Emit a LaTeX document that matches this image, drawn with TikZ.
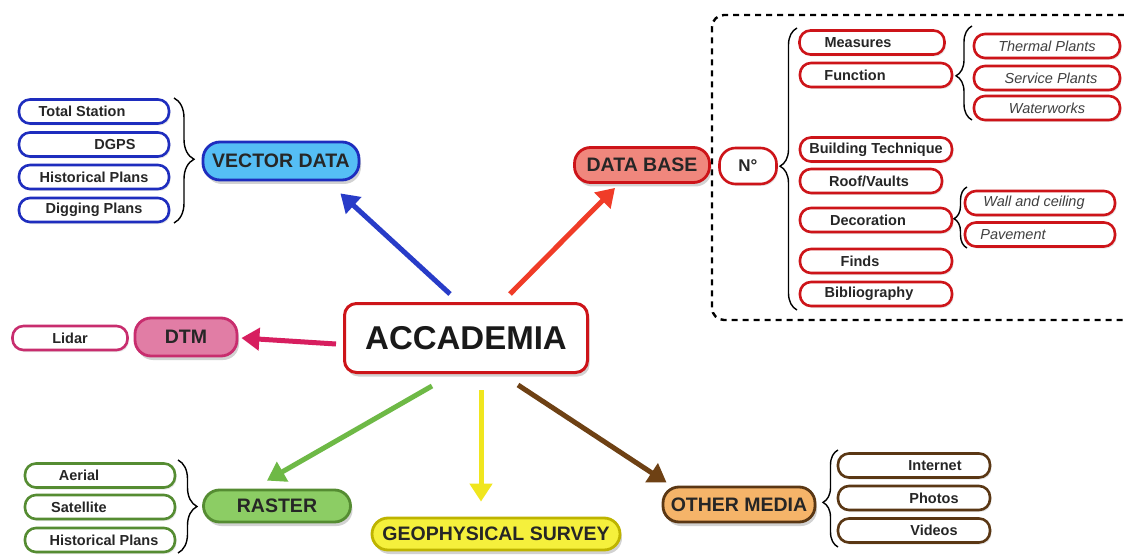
\documentclass[tikz,border=0pt]{standalone}
\usepackage{fontspec}
\setmainfont{Liberation Sans}
\usetikzlibrary{shadows,decorations.pathreplacing,arrows.meta,calc}
\definecolor{bdblue}{RGB}{30,45,190}
\definecolor{fillblue}{RGB}{85,190,245}
\definecolor{bdred}{RGB}{205,20,25}
\definecolor{fillsalmon}{RGB}{240,135,125}
\definecolor{bdpink}{RGB}{200,45,110}
\definecolor{fillpink}{RGB}{225,125,165}
\definecolor{bdgreen}{RGB}{85,140,50}
\definecolor{fillgreen}{RGB}{140,205,100}
\definecolor{bdyellow}{RGB}{190,180,0}
\definecolor{fillyellow}{RGB}{245,240,60}
\definecolor{bdbrown}{RGB}{90,55,20}
\definecolor{fillorange}{RGB}{245,180,105}
\definecolor{arblue}{RGB}{40,60,200}
\definecolor{arred}{RGB}{240,60,40}
\definecolor{arpink}{RGB}{215,30,95}
\definecolor{argreen}{RGB}{110,185,70}
\definecolor{aryellow}{RGB}{240,230,30}
\definecolor{arbrown}{RGB}{110,65,20}
\newcommand\offtext[2]{\makebox[0pt]{\hspace*{#1}\hspace*{#1}#2}}
\tikzset{
  item/.style={draw, line width=2.6pt, rounded corners=11pt, minimum height=24pt,
    inner sep=0pt, fill=white, font=\fontsize{14.5}{16}\selectfont\bfseries, text=black!85,
    drop shadow={opacity=0.18, shadow xshift=1.5pt, shadow yshift=-2pt}},
  itemit/.style={item, font=\fontsize{14.5}{16}\selectfont\itshape, text=black!75},
  mainnode/.style={draw, line width=2.8pt, rounded corners=16pt, inner sep=0pt,
    font=\fontsize{19.5}{22}\selectfont\bfseries, text=black!85,
    drop shadow={opacity=0.35, shadow xshift=2pt, shadow yshift=-4pt}},
  arr/.style={line width=5pt, -{Triangle[length=18pt,width=22pt]}},
  bracestyle/.style={draw=black, line width=1.4pt, decorate},
}
\begin{document}
\begin{tikzpicture}[x=1pt,y=-1pt]
\fill[white] (0,0) rectangle (1124,556);
\useasboundingbox (0,0) rectangle (1124,556);

% dashed frame
\draw[line width=2.4pt, dash pattern=on 6pt off 5pt, rounded corners=12pt]
  (1124,15) -- (712,15) -- (712,320) -- (1124,320);

% ---- blue group
\node[item, draw=bdblue, minimum width=150pt] (ts) at (94,111.5) {\offtext{-12pt}{Total Station}};
\node[item, draw=bdblue, minimum width=150pt] (dgps) at (94,144.5) {\offtext{21pt}{DGPS}};
\node[item, draw=bdblue, minimum width=150pt] (hpb) at (94,177) {Historical Plans};
\node[item, draw=bdblue, minimum width=150pt] (dig) at (94,210) {Digging Plans};
\node[mainnode, draw=bdblue, fill=fillblue, minimum width=156pt, minimum height=38pt, rounded corners=17pt] (vd) at (281,161) {VECTOR DATA};
\coordinate (b1t) at (174,98); \coordinate (b1b) at (174,223);
\draw[bracestyle, decoration={brace, amplitude=20pt, aspect=0.49}] (b1t) -- (b1b);

% ---- data base group
\node[mainnode, draw=bdred, fill=fillsalmon, minimum width=135pt, minimum height=35pt] (db) at (642,165) {DATA BASE};
\node[item, draw=bdred, minimum width=57pt, minimum height=36pt, rounded corners=16pt, font=\fontsize{17}{19}\selectfont\bfseries] (no) at (748,166) {N°};
\coordinate (b2t) at (797,28); \coordinate (b2b) at (797,310);
\draw[bracestyle, decoration={brace, mirror, amplitude=17pt, aspect=0.49}] (b2t) -- (b2b);

\node[item, draw=bdred, minimum width=145pt] (meas) at (872,42.5) {\offtext{-14pt}{Measures}};
\node[item, draw=bdred, minimum width=152pt] (func) at (876,75) {\offtext{-21pt}{Function}};
\node[item, draw=bdred, minimum width=152pt] (bt) at (876,149.5) {Building Technique};
\node[item, draw=bdred, minimum width=142pt] (roof) at (871,181) {\offtext{-2pt}{Roof/Vaults}};
\node[item, draw=bdred, minimum width=152pt] (deco) at (876,220) {\offtext{-8pt}{Decoration}};
\node[item, draw=bdred, minimum width=152pt] (finds) at (876,261) {\offtext{-16pt}{Finds}};
\node[item, draw=bdred, minimum width=152pt] (bib) at (876,294) {\offtext{-7pt}{Bibliography}};

\coordinate (b3t) at (972,26); \coordinate (b3b) at (972,120);
\draw[bracestyle, decoration={brace, mirror, amplitude=16pt, aspect=0.53}] (b3t) -- (b3b);
\node[itemit, draw=bdred, minimum width=146pt] (therm) at (1047,46) {Thermal Plants};
\node[itemit, draw=bdred, minimum width=146pt] (serv) at (1047,78) {\offtext{4pt}{Service Plants}};
\node[itemit, draw=bdred, minimum width=146pt] (water) at (1047,108) {Waterworks};

\coordinate (b4t) at (967,187); \coordinate (b4b) at (967,248);
\draw[bracestyle, decoration={brace, mirror, amplitude=13pt, aspect=0.52}] (b4t) -- (b4b);
\node[itemit, draw=bdred, minimum width=150pt] (wall) at (1040,203) {\offtext{-6pt}{Wall and ceiling}};
\node[itemit, draw=bdred, minimum width=150pt] (pav) at (1040,234.5) {\offtext{-27pt}{Pavement}};

% ---- centre
\node[draw=bdred, line width=3pt, fill=white, rounded corners=12pt, minimum width=243pt, minimum height=69pt,
  inner sep=0pt, font=\fontsize{33}{38}\selectfont\bfseries, text=black!90,
  drop shadow={opacity=0.35, shadow xshift=2pt, shadow yshift=-4pt}] (acc) at (466,338) {ACCADEMIA};

% ---- DTM
\node[mainnode, draw=bdpink, fill=fillpink, minimum width=102pt, minimum height=38pt] (dtm) at (186,337) {DTM};
\node[item, draw=bdpink, minimum width=115pt] (lid) at (70,338) {Lidar};

% ---- raster group
\node[mainnode, draw=bdgreen, fill=fillgreen, minimum width=147pt, minimum height=32pt] (ras) at (277,506) {RASTER};
\node[item, draw=bdgreen, minimum width=150pt] (aer) at (100,475.5) {\offtext{-21pt}{Aerial}};
\node[item, draw=bdgreen, minimum width=150pt] (sat) at (100,507) {\offtext{-21pt}{Satellite}};
\node[item, draw=bdgreen, minimum width=150pt] (hpg) at (100,540) {\offtext{4pt}{Historical Plans}};
\coordinate (b5t) at (178,460); \coordinate (b5b) at (178,553);
\draw[bracestyle, decoration={brace, amplitude=19pt, aspect=0.5}] (b5t) -- (b5b);

% ---- geophysical
\node[mainnode, draw=bdyellow, fill=fillyellow, minimum width=248pt, minimum height=32pt] (geo) at (496,534) {GEOPHYSICAL SURVEY};

% ---- other media
\node[mainnode, draw=bdbrown, fill=fillorange, minimum width=152pt, minimum height=35pt] (om) at (739,504.5) {OTHER MEDIA};
\coordinate (b6t) at (838,450); \coordinate (b6b) at (838,547);
\draw[bracestyle, decoration={brace, mirror, amplitude=15pt, aspect=0.54}] (b6t) -- (b6b);
\node[item, draw=bdbrown, minimum width=152pt] (int) at (914,465.5) {\offtext{21pt}{Internet}};
\node[item, draw=bdbrown, minimum width=152pt] (pho) at (914,498) {\offtext{20pt}{Photos}};
\node[item, draw=bdbrown, minimum width=152pt] (vid) at (914,530.5) {\offtext{20pt}{Videos}};

% ---- arrows
\draw[arr, arblue] ($(acc.north)+(-16,-8)$) -- ($(vd.south east)+(-20,12)$);
\draw[arr, arred] ($(acc.north)+(44,-8)$) -- ($(db.south)+(-27,4)$);
\draw[arr, arpink] ($(acc.west)+(-7,6)$) -- ($(dtm.east)+(3,1)$);
\draw[arr, argreen] ($(acc.south)+(-34,12)$) -- ($(ras.north)+(-10,-8)$);
\draw[arr, aryellow] ($(acc.south)+(15,16)$) -- ($(geo.north)+(-15,-15)$);
\draw[arr, arbrown] ($(acc.south)+(52,11)$) -- ($(om.north west)+(5,-3)$);
\end{tikzpicture}
\end{document}
